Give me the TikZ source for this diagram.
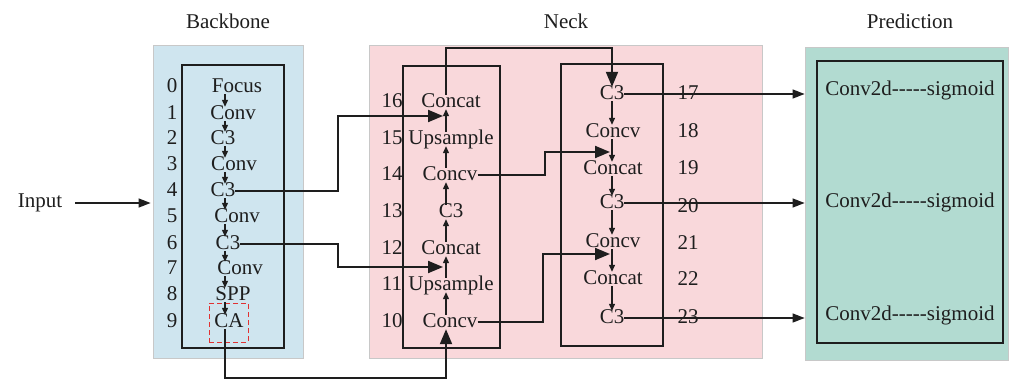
\documentclass[tikz,border=0pt]{standalone}
\usepackage{fontspec}
\setmainfont{Liberation Serif}
\usetikzlibrary{arrows.meta,calc}
\definecolor{bbfill}{RGB}{207,229,239}
\definecolor{nkfill}{RGB}{249,216,219}
\definecolor{prfill}{RGB}{178,219,209}
\definecolor{edgegray}{RGB}{200,200,200}
\definecolor{ink}{RGB}{30,30,30}
\definecolor{cared}{RGB}{225,50,50}
\begin{document}
\begin{tikzpicture}[x=1pt,y=-1pt,
  every node/.style={font=\fontsize{21}{24}\selectfont, text=ink, inner sep=0pt},
  lay/.style={anchor=base, text height=12pt, text depth=2pt},
  panel/.style={draw=edgegray, line width=0.8pt, rectangle},
  inbox/.style={draw=ink, line width=2.2pt, rectangle},
  cabox/.style={draw=cared, dashed, dash pattern=on 5pt off 3pt, line width=1pt, rectangle},
  small/.style={draw=ink, line width=1.2pt, -{Triangle[length=7pt,width=6pt]}},
  conn/.style={draw=ink, line width=2pt, -{Triangle[length=15pt,width=12pt]}},
  outarr/.style={draw=ink, line width=1.3pt, -{Triangle[length=12pt,width=9pt]}}]
\useasboundingbox (0,0) rectangle (1011,380);

% panels
\node[panel, fill=bbfill, minimum width=150pt, minimum height=313pt] (bbpanel) at (228,201.5) {};
\node[panel, fill=nkfill, minimum width=393pt, minimum height=313pt] (nkpanel) at (565.5,201.5) {};
\node[panel, fill=prfill, minimum width=203pt, minimum height=313pt] (prpanel) at (906.5,203.5) {};
\node[inbox, minimum width=102pt, minimum height=283pt] (bbbox) at (233,206.5) {};
\node[inbox, minimum width=97pt, minimum height=282pt] (nlbox) at (451.5,207) {};
\node[inbox, minimum width=102pt, minimum height=282pt] (nrbox) at (612,205) {};
\node[inbox, minimum width=186pt, minimum height=282pt] (prbox) at (910,202) {};

% titles
\node[anchor=base] (tbb) at (228,28) {Backbone};
\node[anchor=base] (tnk) at (566,28) {Neck};
\node[anchor=base] (tpr) at (910,28) {Prediction};

% input
\node (input) at (40,203) {Input};
\draw[outarr, shorten <=13pt, shorten >=2pt] (input.east) -- (bbpanel.west |- input);

% backbone layers
\foreach \n/\y in {0/85,1/112,2/137,3/163,4/189,5/215,6/242,7/267,8/293,9/320}
  \node[lay] (bn\n) at (172,\y+7) {\n};
\node[lay] (b0) at (237,92) {Focus};
\node[lay] (b1) at (233,119) {Conv};
\node[lay] (b2) at (223,144) {C3};
\node[lay] (b3) at (234,170) {Conv};
\node[lay] (b4) at (223,196) {C3};
\node[lay] (b5) at (237,222) {Conv};
\node[lay] (b6) at (228,249) {C3};
\node[lay] (b7) at (240,274) {Conv};
\node[lay] (b8) at (233,300) {SPP};
\node[lay] (b9) at (229,327) {CA};
\node[cabox, minimum width=39pt, minimum height=39pt] (cab) at (228.5,322.5) {};
\coordinate (bax) at (225,0);
\foreach \a/\b in {b0/b1,b1/b2,b2/b3,b3/b4,b4/b5,b5/b6,b6/b7,b7/b8,b8/b9}
  \draw[small] (\a.south -| bax) -- (\b.north -| bax);

% neck left column
\foreach \n/\y in {16/100,15/137,14/173,13/210,12/247,11/283,10/320}
  \node[lay] (nn\n) at (392,\y+7) {\n};
\node[lay] (n16) at (451,107) {Concat};
\node[lay] (n15) at (451,144) {Upsample};
\node[lay] (n14) at (450,180) {Concv};
\node[lay] (n13) at (451,217) {C3};
\node[lay] (n12) at (451,254) {Concat};
\node[lay] (n11) at (451,290) {Upsample};
\node[lay] (n10) at (450,327) {Concv};
\coordinate (nax) at (446,0);
\foreach \a/\b in {n10/n11,n11/n12,n12/n13,n13/n14,n14/n15,n15/n16}
  \draw[small] (\a.north -| nax) -- (\b.south -| nax);

% neck right column
\foreach \n/\y in {17/92,18/130,19/167,20/205,21/242,22/278,23/316}
  \node[lay] (rn\n) at (688,\y+7) {\n};
\node[lay] (r17) at (612,99) {C3};
\node[lay] (r18) at (613,137) {Concv};
\node[lay] (r19) at (613,174) {Concat};
\node[lay] (r20) at (612,208) {C3};
\node[lay] (r21) at (613,247) {Concv};
\node[lay] (r22) at (613,284) {Concat};
\node[lay] (r23) at (612,323) {C3};
\coordinate (rax) at (612,0);
\foreach \a/\b in {r17/r18,r18/r19,r19/r20,r20/r21,r21/r22,r22/r23}
  \draw[small] (\a.south -| rax) -- (\b.north -| rax);

% prediction texts
\node (p1) at (910,90) {Conv2d{-}{-}{-}{-}{-}sigmoid};
\node (p2) at (910,202) {Conv2d{-}{-}{-}{-}{-}sigmoid};
\node (p3) at (910,315) {Conv2d{-}{-}{-}{-}{-}sigmoid};

% connectors
\coordinate (j1) at (338,0);
\coordinate (j2) at (545,0);
\coordinate (j3) at (543,0);
\coordinate (topy) at (0,48);
\coordinate (bot) at (0,378);
\coordinate (m16) at (443,116);
\coordinate (m12) at (443,267);
\coordinate (m19) at (610,152);
\coordinate (m22) at (610,254);
\draw[conn] (b4.east) -| (j1 |- m16) -- (m16);
\draw[conn] (b6.east) -| (j1 |- m12) -- (m12);
\draw[conn] (b9.south -| bax) -- (bax |- bot) -| (n10.south -| nax);
\draw[conn] (n16.north -| nax) -- (nax |- topy) -| (r17.north);
\draw[conn] (n14.east) -| (j2 |- m19) -- (m19);
\draw[conn] (n10.east) -| (j3 |- m22) -- (m22);

% outputs
\draw[outarr] (r17.east) -- (r17.east -| prpanel.west);
\draw[outarr] (r20.east) -- (r20.east -| prpanel.west);
\draw[outarr] (r23.east) -- (r23.east -| prpanel.west);
\end{tikzpicture}
\end{document}
